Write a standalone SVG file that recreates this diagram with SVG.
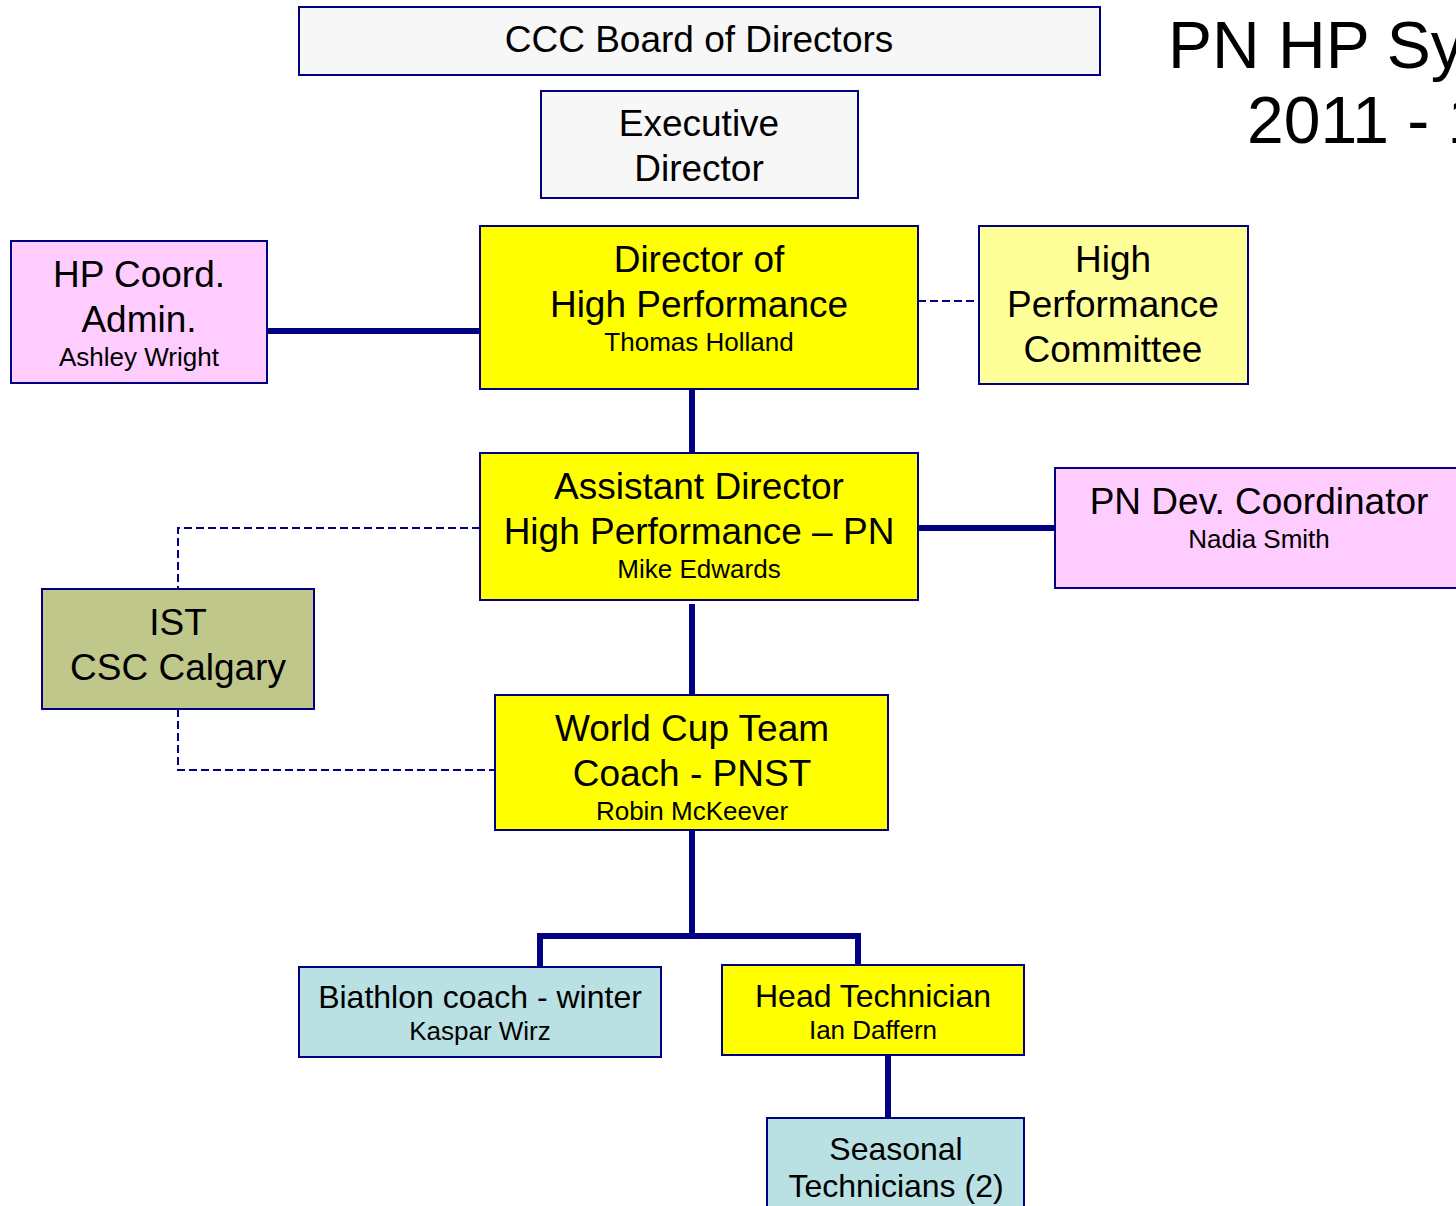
<svg xmlns="http://www.w3.org/2000/svg" width="1456" height="1206" viewBox="0 0 1456 1206">
<style>
.box{stroke:#000080;stroke-width:2}
.grey{fill:#f7f7f7}
.yel{fill:#ffff00}
.lyel{fill:#ffff99}
.pink{fill:#ffccff}
.olive{fill:#c0c78a}
.cyan{fill:#b9e0e3}
text{font-family:"Liberation Sans",Arial,sans-serif;fill:#000;text-anchor:middle}
.big{font-size:37px}
.mid{font-size:32px}
.small{font-size:26px}
.title{font-size:66px;text-anchor:start}
.solid{stroke:#000080;stroke-width:6;fill:none}
.dash{stroke:#000080;stroke-width:2;stroke-dasharray:8 4;fill:none}
</style>
<rect width="1456" height="1206" fill="#ffffff"/>
<g id="connectors">
<line class="solid" x1="267" y1="331" x2="480" y2="331"/>
<line class="dash" x1="918" y1="301" x2="979" y2="301"/>
<line class="solid" x1="692" y1="389" x2="692" y2="453"/>
<line class="solid" x1="918" y1="528" x2="1055" y2="528"/>
<polyline class="dash" points="480,528 178,528 178,589"/>
<polyline class="dash" points="178,709 178,770 495,770"/>
<line class="solid" x1="692" y1="604" x2="692" y2="695"/>
<line class="solid" x1="692" y1="830" x2="692" y2="936"/>
<polyline class="solid" points="540,967 540,936 858,936 858,965"/>
<line class="solid" x1="888" y1="1055" x2="888" y2="1118"/>
</g>
<g id="title">
<text class="title" x="1168" y="68">PN HP Sy</text>
<text class="title" x="1247" y="143">2011 - 1</text>
</g>
<g id="board">
<rect class="box grey" x="299" y="7" width="801" height="68"/>
<text class="big" x="699" y="52">CCC Board of Directors</text>
</g>
<g id="exec">
<rect class="box grey" x="541" y="91" width="317" height="107"/>
<text class="big" x="699" y="136">Executive</text>
<text class="big" x="699" y="181">Director</text>
</g>
<g id="hpcoord">
<rect class="box pink" x="11" y="241" width="256" height="142"/>
<text class="big" x="139" y="287">HP Coord.</text>
<text class="big" x="139" y="332">Admin.</text>
<text class="small" x="139" y="366">Ashley Wright</text>
</g>
<g id="dirhp">
<rect class="box yel" x="480" y="226" width="438" height="163"/>
<text class="big" x="699" y="272">Director of</text>
<text class="big" x="699" y="317">High Performance</text>
<text class="small" x="699" y="351">Thomas Holland</text>
</g>
<g id="hpc">
<rect class="box lyel" x="979" y="226" width="269" height="158"/>
<text class="big" x="1113" y="272">High</text>
<text class="big" x="1113" y="317">Performance</text>
<text class="big" x="1113" y="362">Committee</text>
</g>
<g id="asstdir">
<rect class="box yel" x="480" y="453" width="438" height="147"/>
<text class="big" x="699" y="499">Assistant Director</text>
<text class="big" x="699" y="544">High Performance – PN</text>
<text class="small" x="699" y="578">Mike Edwards</text>
</g>
<g id="pndev">
<rect class="box pink" x="1055" y="468" width="410" height="120"/>
<text class="big" x="1259" y="514">PN Dev. Coordinator</text>
<text class="small" x="1259" y="548">Nadia Smith</text>
</g>
<g id="ist">
<rect class="box olive" x="42" y="589" width="272" height="120"/>
<text class="big" x="178" y="635">IST</text>
<text class="big" x="178" y="680">CSC Calgary</text>
</g>
<g id="wcteam">
<rect class="box yel" x="495" y="695" width="393" height="135"/>
<text class="big" x="692" y="741">World Cup Team</text>
<text class="big" x="692" y="786">Coach - PNST</text>
<text class="small" x="692" y="820">Robin McKeever</text>
</g>
<g id="biathlon">
<rect class="box cyan" x="299" y="967" width="362" height="90"/>
<text class="mid" x="480" y="1008">Biathlon coach - winter</text>
<text class="small" x="480" y="1040">Kaspar Wirz</text>
</g>
<g id="headtech">
<rect class="box yel" x="722" y="965" width="302" height="90"/>
<text class="mid" x="873" y="1007">Head Technician</text>
<text class="small" x="873" y="1039">Ian Daffern</text>
</g>
<g id="seasonal">
<rect class="box cyan" x="767" y="1118" width="257" height="100"/>
<text class="mid" x="896" y="1160">Seasonal</text>
<text class="mid" x="896" y="1197">Technicians (2)</text>
</g>
</svg>
